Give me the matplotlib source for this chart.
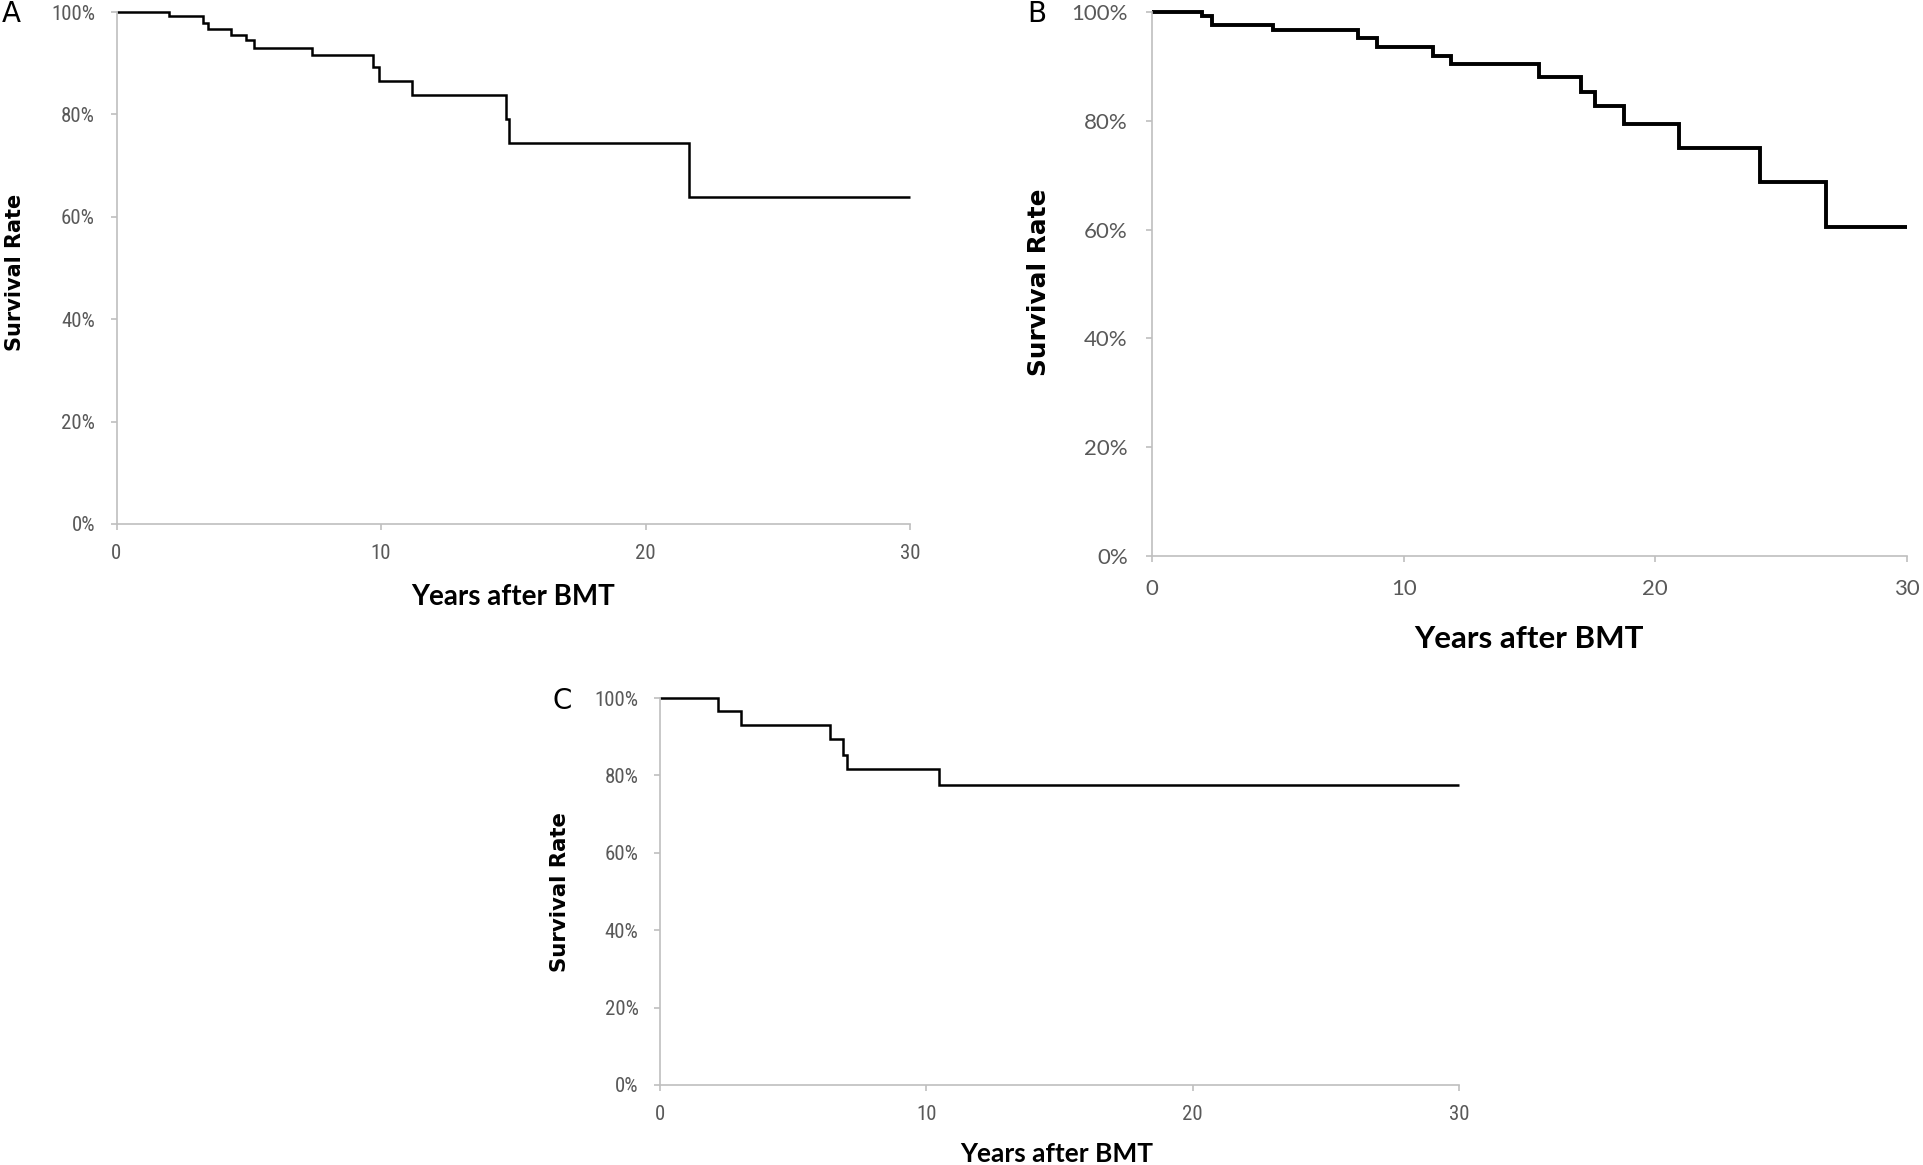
import numpy as np
import matplotlib
matplotlib.use("Agg")
import matplotlib.pyplot as plt
from matplotlib.ticker import PercentFormatter
from matplotlib import font_manager

# Kaplan-Meier style step data (years, survival fraction)
a_years = [0, 2.0, 3.27, 3.47, 4.32, 4.89, 5.2, 7.41, 9.68, 9.91, 11.19, 14.72, 14.83, 21.65, 30]
a_surv = [1.0, 0.9915, 0.979, 0.966, 0.956, 0.946, 0.930, 0.916, 0.892, 0.866, 0.837, 0.791, 0.745, 0.638, 0.638]

b_years = [0, 2.0, 2.38, 4.8, 8.2, 8.93, 11.15, 11.9, 15.38, 17.05, 17.6, 18.76, 20.94, 24.16, 26.8, 30]
b_surv = [1.0, 0.993, 0.977, 0.966, 0.952, 0.936, 0.919, 0.904, 0.881, 0.853, 0.827, 0.794, 0.750, 0.687, 0.605, 0.605]

c_years = [0, 2.16, 3.06, 6.4, 6.88, 7.03, 10.46, 30]
c_surv = [1.0, 0.967, 0.930, 0.894, 0.853, 0.816, 0.776, 0.776]

x_ticks = [0, 10, 20, 30]
y_ticks = [0, 0.2, 0.4, 0.6, 0.8, 1.0]

W, H = 1923, 1165
fig = plt.figure(figsize=(W / 100, H / 100), dpi=100)

# pick a narrow font if one is installed (original looks like Calibri)
names = set(f.name for f in font_manager.fontManager.ttflist)
narrow = 'DejaVu Sans'
for cand in ['Liberation Sans Narrow', 'DejaVu Sans Condensed', 'Roboto Condensed', 'Lato']:
    if cand in names:
        narrow = cand
        break
lato = 'Lato' if 'Lato' in names else 'DejaVu Sans'

grey = '#BFBFBF'
tickcol = '#595959'


def px_axes(l, t, r, b):
    return fig.add_axes([l / W, 1 - b / H, (r - l) / W, (b - t) / H])


def style(ax, years, surv, lw, fsize, font, ypad, xpad):
    ax.step(years, surv, where='post', color='black', lw=lw, clip_on=False,
            solid_joinstyle='miter', solid_capstyle='butt')
    ax.set_xlim(0, 30)
    ax.set_ylim(0, 1)
    ax.set_xticks(x_ticks)
    ax.set_yticks(y_ticks)
    ax.yaxis.set_major_formatter(PercentFormatter(1.0, decimals=0))
    for s in ['top', 'right']:
        ax.spines[s].set_visible(False)
    for s in ['left', 'bottom']:
        ax.spines[s].set_color(grey)
        ax.spines[s].set_linewidth(1.2)
    ax.tick_params(axis='both', colors=grey, width=1.2, length=4.5, direction='out',
                   labelcolor=tickcol, labelsize=fsize)
    ax.tick_params(axis='y', pad=ypad)
    ax.tick_params(axis='x', pad=xpad)
    for lab in ax.get_xticklabels() + ax.get_yticklabels():
        lab.set_family(font)


# Panel A
axA = px_axes(116.5, 12, 910, 524)
style(axA, a_years, a_surv, 1.8, 15, narrow, 11, 10)
fig.text(2 / W, 1 - 14 / H, 'A', fontsize=20, va='center', ha='left')
fig.text(15 / W, 1 - 272 / H, 'Survival Rate', rotation=90, fontsize=15,
         fontweight='bold', ha='center', va='center')
fig.text(513 / W, 1 - 597 / H, 'Years after BMT', fontsize=20, fontweight='bold',
         family=lato, ha='center', va='center')

# Panel B
axB = px_axes(1152, 12, 1907, 556)
style(axB, b_years, b_surv, 2.8, 16, lato, 13, 12)
fig.text(1027 / W, 1 - 14 / H, 'B', fontsize=20, va='center', ha='left')
fig.text(1039 / W, 1 - 282 / H, 'Survival Rate', rotation=90, fontsize=17.8,
         fontweight='bold', ha='center', va='center')
fig.text(1529 / W, 1 - 639 / H, 'Years after BMT', fontsize=22.5, fontweight='bold',
         family=lato, ha='center', va='center')

# Panel C
axC = px_axes(660, 698, 1459, 1085)
style(axC, c_years, c_surv, 1.8, 15, narrow, 11, 10)
fig.text(552 / W, 1 - 701 / H, 'C', fontsize=20, va='center', ha='left')
fig.text(560 / W, 1 - 892 / H, 'Survival Rate', rotation=90, fontsize=15.3,
         fontweight='bold', ha='center', va='center')
fig.text(1057 / W, 1 - 1154 / H, 'Years after BMT', fontsize=19, fontweight='bold',
         family=lato, ha='center', va='center')

fig.savefig('out.png', dpi=100, facecolor='white')
